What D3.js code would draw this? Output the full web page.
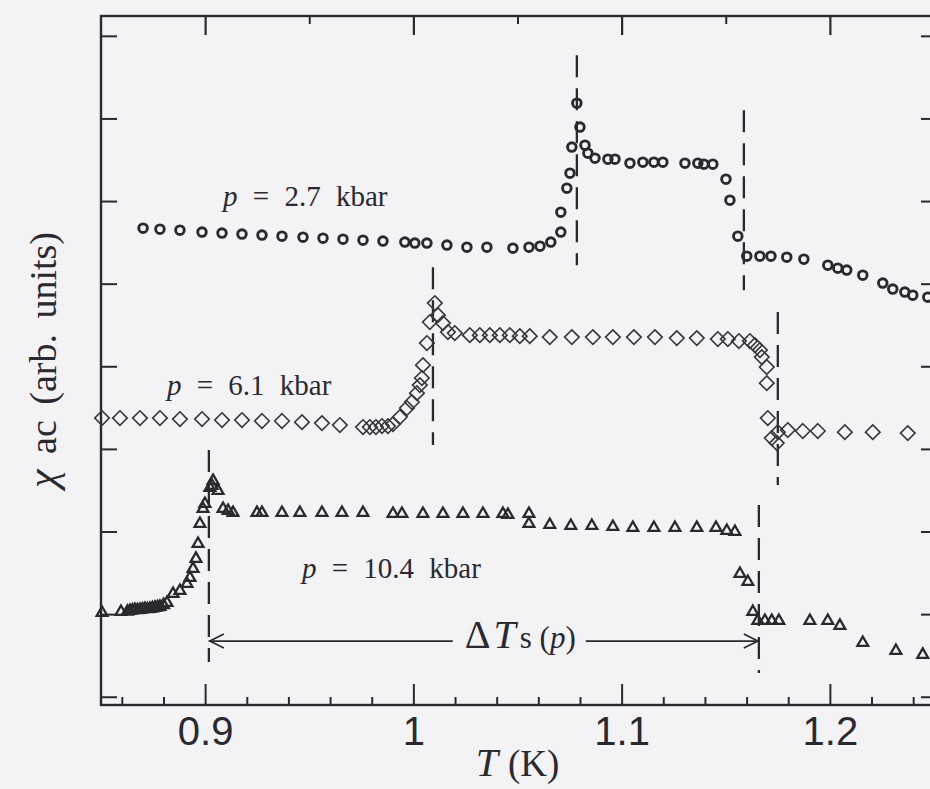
<!DOCTYPE html>
<html>
<head>
<meta charset="utf-8">
<script src="https://cdn.jsdelivr.net/npm/d3@7"></script>
<style>
  html, body { margin: 0; padding: 0; background: #f3f2f5; }
  svg { display: block; }
</style>
</head>
<body>
<svg id="chart" width="930" height="789"></svg>
<script>
// ---- χac(T) data for three pressures (T in K, χac in arbitrary units) ----
const tempA = [0.8702,0.8783,0.8879,0.8985,0.9081,0.9177,0.9273,0.9369,0.9470,0.9566,0.9662,0.9758,0.9854,0.9959,1.0007,1.0065,1.0161,1.0257,1.0353,1.0478,1.0555,1.0608,1.0660,1.0708,1.0708,1.0737,1.0752,1.0761,1.0800,1.0785,1.0824,1.0838,1.0872,1.0934,1.0968,1.1040,1.1102,1.1155,1.1198,1.1304,1.1366,1.1395,1.1438,1.1501,1.1520,1.1558,1.1601,1.1664,1.1717,1.1793,1.1875,1.1990,1.2038,1.2081,1.2158,1.2254,1.2302,1.2360,1.2398,1.2470];
const chiA  = [5.672,5.660,5.648,5.624,5.612,5.600,5.588,5.575,5.563,5.551,5.539,5.527,5.515,5.503,5.491,5.491,5.467,5.442,5.442,5.430,5.442,5.454,5.503,5.624,5.866,6.156,6.338,6.653,6.895,7.185,6.677,6.580,6.519,6.507,6.507,6.459,6.471,6.471,6.471,6.459,6.459,6.447,6.447,6.265,6.011,5.575,5.333,5.333,5.333,5.321,5.297,5.224,5.188,5.164,5.103,5.007,4.934,4.898,4.861,4.837];

const tempB = [0.8505,0.8591,0.8687,0.8783,0.8879,0.8985,0.9081,0.9177,0.9273,0.9369,0.9465,0.9561,0.9647,0.9758,0.9791,0.9820,0.9849,0.9878,0.9902,0.9935,0.9969,0.9993,1.0017,1.0031,1.0041,1.0046,1.0065,1.0079,1.0103,1.0118,1.0142,1.0166,1.0199,1.0271,1.0319,1.0367,1.0415,1.0463,1.0511,1.0559,1.0655,1.0761,1.0862,1.0958,1.1059,1.1160,1.1265,1.1361,1.1462,1.1510,1.1563,1.1616,1.1640,1.1664,1.1673,1.1697,1.1697,1.1702,1.1721,1.1745,1.1750,1.1798,1.1870,1.1942,1.2072,1.2206,1.2374];
const chiB  = [3.373,3.373,3.373,3.373,3.361,3.361,3.349,3.349,3.337,3.337,3.324,3.312,3.288,3.264,3.264,3.264,3.276,3.276,3.300,3.385,3.494,3.567,3.675,3.772,3.857,4.014,4.281,4.535,4.765,4.619,4.523,4.414,4.402,4.377,4.377,4.377,4.377,4.377,4.365,4.365,4.353,4.353,4.353,4.353,4.353,4.353,4.341,4.341,4.329,4.329,4.305,4.305,4.256,4.196,4.111,3.990,3.796,3.373,3.131,3.070,3.203,3.228,3.216,3.216,3.203,3.203,3.191];

const tempC = [0.8505,0.8596,0.8627,0.8639,0.8651,0.8663,0.8675,0.8687,0.8699,0.8711,0.8723,0.8735,0.8747,0.8759,0.8771,0.8783,0.8800,0.8817,0.8846,0.8879,0.8913,0.8927,0.8942,0.8956,0.8966,0.8975,0.8990,0.8999,0.9023,0.9033,0.9038,0.9062,0.9086,0.9110,0.9134,0.9249,0.9273,0.9369,0.9455,0.9561,0.9657,0.9758,0.9902,0.9945,1.0046,1.0142,1.0238,1.0334,1.0430,1.0454,1.0555,1.0555,1.0655,1.0756,1.0857,1.0958,1.1054,1.1155,1.1256,1.1361,1.1453,1.1505,1.1544,1.1568,1.1606,1.1630,1.1654,1.1688,1.1721,1.1755,1.1904,1.1990,1.2048,1.2158,1.2317,1.2446];
const chiC  = [1.025,1.037,1.040,1.049,1.055,1.061,1.058,1.061,1.067,1.073,1.070,1.073,1.080,1.086,1.092,1.098,1.120,1.146,1.255,1.291,1.376,1.449,1.558,1.679,1.860,2.102,2.284,2.344,2.538,2.563,2.623,2.502,2.284,2.259,2.235,2.235,2.235,2.235,2.235,2.235,2.235,2.235,2.223,2.223,2.223,2.223,2.223,2.223,2.223,2.211,2.223,2.102,2.090,2.078,2.078,2.066,2.054,2.054,2.054,2.054,2.054,2.017,2.005,1.497,1.400,1.037,0.928,0.928,0.928,0.928,0.928,0.928,0.868,0.662,0.565,0.517];

const seriesLabels = ["2.7 kbar", "6.1 kbar", "10.4 kbar"];

// transition temperatures (dashed markers) and the χ span each dashed line covers
const transT     = [[1.0785, 1.1587], [1.0094, 1.1750], [0.9018, 1.1659]];
const transChiLo = [[5.224, 4.919], [3.046, 2.563], [0.420, 0.287]];
const transChiHi = [[7.766, 7.099], [5.200, 4.656], [2.987, 2.320]];

// ΔTs(p) arrow drawn between the two 10.4 kbar transitions
const arrowChi = 0.674;

// axis ticks
const xMajorTicks = [0.9, 1.0, 1.1, 1.2];
const xTickLabels = ["0.9", "1", "1.1", "1.2"];
const xTopMinor   = [0.95, 1.05, 1.15];
const yTicks      = [0, 1, 2, 3, 4, 5, 6, 7, 8];

// ---- drawing ----
const ink = "#2b2930";
const svg = d3.select("#chart");

const x = d3.scaleLinear().domain([0.85, 1.25]).range([101, 934]);
const y = d3.scaleLinear().domain([-0.1, 8.24]).range([705, 16]);

const X0 = x.range()[0], X1 = x.range()[1];
const Y0 = y.range()[0], Y1 = y.range()[1];

// frame
svg.append("rect")
  .attr("x", X0).attr("y", Y1)
  .attr("width", X1 - X0).attr("height", Y0 - Y1)
  .attr("fill", "none").attr("stroke", ink).attr("stroke-width", 2.4);

function styleAxis(g, width) {
  g.select(".domain").remove();
  g.selectAll(".tick line").attr("stroke", ink).attr("stroke-width", width);
}

// bottom axis: labelled major ticks + minor ticks every 0.02 K
const xMinorBottom = d3.range(43, 63).filter(i => i % 5 !== 0).map(i => i / 50);
svg.append("g").attr("transform", `translate(0,${Y0})`)
  .call(d3.axisBottom(x).tickValues(xMajorTicks).tickSizeInner(-21).tickSizeOuter(0)
        .tickPadding(12).tickFormat((d, i) => xTickLabels[i]))
  .call(g => styleAxis(g, 2))
  .call(g => g.selectAll("text")
      .attr("fill", ink)
      .style("font-family", "'Liberation Sans', Arial, sans-serif")
      .style("font-size", "40px"));
svg.append("g").attr("transform", `translate(0,${Y0})`)
  .call(d3.axisBottom(x).tickValues(xMinorBottom).tickSizeInner(-8).tickSizeOuter(0).tickFormat(""))
  .call(g => styleAxis(g, 2));

// top axis
svg.append("g").attr("transform", `translate(0,${Y1})`)
  .call(d3.axisTop(x).tickValues(xMajorTicks).tickSizeInner(-19).tickSizeOuter(0).tickFormat(""))
  .call(g => styleAxis(g, 2.2));
svg.append("g").attr("transform", `translate(0,${Y1})`)
  .call(d3.axisTop(x).tickValues(xTopMinor).tickSizeInner(-8).tickSizeOuter(0).tickFormat(""))
  .call(g => styleAxis(g, 2));

// left and right axes
svg.append("g").attr("transform", `translate(${X0},0)`)
  .call(d3.axisLeft(y).tickValues(yTicks).tickSizeInner(-16).tickSizeOuter(0).tickFormat(""))
  .call(g => styleAxis(g, 2));
svg.append("g").attr("transform", `translate(${X1},0)`)
  .call(d3.axisRight(y).tickValues(yTicks).tickSizeInner(-13).tickSizeOuter(0).tickFormat(""))
  .call(g => styleAxis(g, 2));

// dashed transition markers
const dashData = [];
transT.forEach((pair, s) => pair.forEach((t, k) =>
  dashData.push({ t, lo: transChiLo[s][k], hi: transChiHi[s][k] })));
svg.append("g").selectAll("line").data(dashData).join("line")
  .attr("x1", d => x(d.t)).attr("x2", d => x(d.t))
  .attr("y1", d => y(d.hi)).attr("y2", d => y(d.lo))
  .attr("stroke", ink).attr("stroke-width", 2.3)
  .attr("stroke-dasharray", "22,11");

// markers
const ptsA = tempA.map((t, i) => ({ t, v: chiA[i] }));
const ptsB = tempB.map((t, i) => ({ t, v: chiB[i] }));
const ptsC = tempC.map((t, i) => ({ t, v: chiC[i] }));

svg.append("g").selectAll("circle").data(ptsA).join("circle")
  .attr("cx", d => x(d.t)).attr("cy", d => y(d.v)).attr("r", 4.3)
  .attr("fill", "none").attr("stroke", ink).attr("stroke-width", 2.9);

const diamond = "M0,-7.3L7.3,0L0,7.3L-7.3,0Z";
svg.append("g").selectAll("path").data(ptsB).join("path")
  .attr("d", diamond)
  .attr("transform", d => `translate(${x(d.t)},${y(d.v)})`)
  .attr("fill", "none").attr("stroke", "#38363e").attr("stroke-width", 1.6);

const triangle = "M0,-5.6L5.4,3.8L-5.4,3.8Z";
svg.append("g").selectAll("path").data(ptsC).join("path")
  .attr("d", triangle)
  .attr("transform", d => `translate(${x(d.t)},${y(d.v)})`)
  .attr("fill", "none").attr("stroke", ink).attr("stroke-width", 2.3)
  .attr("stroke-linejoin", "miter");

// pressure labels
const serif = "'Liberation Serif', 'Times New Roman', serif";
const labelPos = [
  { t: 0.9086, v: 5.94 },
  { t: 0.8817, v: 3.651 },
  { t: 0.9465, v: 1.437 }
];
labelPos.forEach((p, i) => {
  const txt = svg.append("text")
    .attr("x", x(p.t)).attr("y", y(p.v))
    .attr("fill", ink)
    .style("font-family", serif).style("font-size", "29px")
    .style("word-spacing", "8px");
  txt.append("tspan").style("font-style", "italic").text("p");
  txt.append("tspan").text(" = " + seriesLabels[i]);
});

// ΔTs(p) arrow between the 10.4 kbar transitions
const tL = transT[2][0], tR = transT[2][1];
const ay = y(arrowChi);
const dt = svg.append("text")
  .attr("x", x(1.0247)).attr("y", ay + 7)
  .attr("fill", ink)
  .style("font-family", serif);
dt.append("tspan").style("font-size", "40px").text("Δ");
dt.append("tspan").attr("dx", 3).style("font-size", "40px").style("font-style", "italic").text("T");
dt.append("tspan").attr("dx", 4).style("font-size", "31px").text("s (");
dt.append("tspan").style("font-size", "31px").style("font-style", "italic").text("p");
dt.append("tspan").style("font-size", "31px").text(")");
const bb = dt.node().getBBox();

const arrow = svg.append("g").attr("stroke", ink).attr("fill", "none").attr("stroke-width", 1.7);
arrow.append("line").attr("x1", x(tL)).attr("x2", bb.x - 12).attr("y1", ay).attr("y2", ay);
arrow.append("line").attr("x1", bb.x + bb.width + 10).attr("x2", x(tR)).attr("y1", ay).attr("y2", ay);
arrow.append("path").attr("d", `M${x(tL) + 15},${ay - 7}L${x(tL) + 1},${ay}L${x(tL) + 15},${ay + 7}`);
arrow.append("path").attr("d", `M${x(tR) - 15},${ay - 7}L${x(tR) - 1},${ay}L${x(tR) - 15},${ay + 7}`);

// axis titles
const xt = svg.append("text")
  .attr("x", (x(1.0) + x(1.1)) / 2).attr("y", 776)
  .attr("text-anchor", "middle").attr("fill", ink)
  .style("font-family", serif);
xt.append("tspan").style("font-size", "40px").style("font-style", "italic").text("T");
xt.append("tspan").attr("dx", 10).style("font-size", "37px").text("(K)");

const yt = svg.append("text")
  .attr("transform", "translate(56,360) rotate(-90)")
  .attr("text-anchor", "middle").attr("fill", ink)
  .style("font-family", serif)
  .style("word-spacing", "6px");
yt.append("tspan").style("font-size", "42px").style("font-style", "italic").text("χ");
yt.append("tspan").style("font-size", "38px").text(" ac (arb. units)");
</script>
</body>
</html>
